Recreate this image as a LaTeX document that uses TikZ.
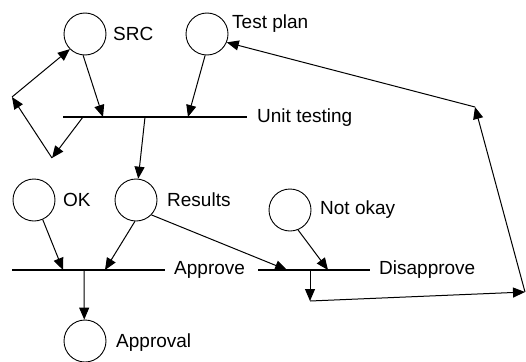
\documentclass[tikz,border=0pt]{standalone}
\usepackage{fontspec}
\setmainfont{Liberation Sans}
\usetikzlibrary{arrows.meta}
\begin{document}
\begin{tikzpicture}[x=1pt,y=1pt,
  place/.style={draw, circle, minimum size=42pt, inner sep=0pt, line width=0.9pt},
  lbl/.style={anchor=west, inner sep=0pt, font=\fontsize{19}{22}\selectfont},
  bar/.style={line width=1.1pt},
  flow/.style={line width=1pt, -{Triangle[length=12pt,width=10pt]}}]
\useasboundingbox (0,0) rectangle (526,-361);

% places
\node[place] (src) at (85,-34) {};
\node[place] (tp) at (207,-34) {};
\node[place] (ok) at (34,-200) {};
\node[place] (res) at (136,-200) {};
\node[place] (nok) at (290,-210) {};
\node[place] (apl) at (85,-341) {};

\node[lbl] (srcl) at (113,-34) {SRC};
\node[lbl] (tpl) at (232,-24) {Test plan};
\node[lbl] (okl) at (63,-200) {OK};
\node[lbl] (resl) at (167,-200) {Results};
\node[lbl] (nokl) at (320,-210) {Not okay};
\node[lbl] (apll) at (116,-343) {Approval};

% transitions (bars)
\coordinate (utL) at (63,-117);
\coordinate (utR) at (247,-117);
\coordinate (apL) at (12,-270);
\coordinate (apR) at (165,-270);
\coordinate (dsL) at (258,-270);
\coordinate (dsR) at (370,-270);
\draw[bar] (utL) -- (utR);
\draw[bar] (apL) -- (apR);
\draw[bar] (dsL) -- (dsR);
\node[lbl] (utl) at (257,-118) {Unit testing};
\node[lbl] (apl2) at (174,-270) {Approve};
\node[lbl] (dsl) at (379,-270) {Disapprove};

% points on the bars
\coordinate (ut1) at (103,-117);
\coordinate (ut2) at (188,-117);
\coordinate (ut3) at (145,-117);
\coordinate (ut4) at (83,-117);
\coordinate (ap1) at (63,-270);
\coordinate (ap2) at (105,-270);
\coordinate (ap3) at (84,-270);
\coordinate (ds1) at (287,-270);
\coordinate (ds2) at (328,-270);
\coordinate (ds3) at (310,-270);

% bends of the feedback paths
\coordinate (c1) at (52,-158);
\coordinate (c2) at (12,-97);
\coordinate (d1) at (310,-301);
\coordinate (c3) at (525,-292);
\coordinate (c4) at (475,-107);

% arcs
\draw[flow] (src.265) -- (ut1);
\draw[flow] (tp.265) -- (ut2);
\draw[flow] (ut3) -- (res.84);
\draw[flow] (ut4) -- (c1);
\draw[flow] (c1) -- (c2);
\draw[flow] (c2) -- (src.225);

\draw[flow] (ok.294) -- (ap1);
\draw[flow] (res.267) -- (ap2);
\draw[flow] (ap3) -- (apl.92);
\draw[flow] (res.316) -- (ds1);
\draw[flow] (nok.292) -- (ds2);
\draw[flow] (ds3) -- (d1);
\draw[flow] (d1) -- (c3);
\draw[flow] (c3) -- (c4);
\draw[flow] (c4) -- (tp.337);
\end{tikzpicture}
\end{document}
